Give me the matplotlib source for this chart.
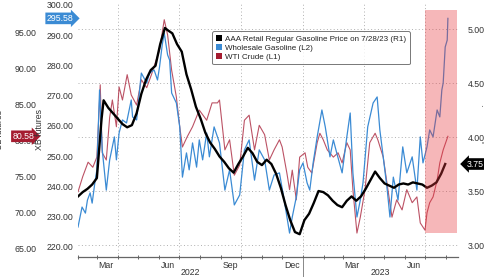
import numpy as np
import pandas as pd
import matplotlib
matplotlib.use("Agg")
import matplotlib.pyplot as plt
import matplotlib.dates as mdates
from matplotlib.patches import Patch

plt.rcParams["font.family"] = ["Liberation Sans", "DejaVu Sans"]

# AAA retail regular gasoline ($/gal, right axis R1)
aaa_dates = [
    "2022-02-01", "2022-02-08", "2022-02-15", "2022-02-22", "2022-03-01", "2022-03-08",
    "2022-03-11", "2022-03-18", "2022-03-25", "2022-04-01", "2022-04-08", "2022-04-15",
    "2022-04-22", "2022-04-29", "2022-05-06", "2022-05-13", "2022-05-20", "2022-05-27",
    "2022-06-03", "2022-06-10", "2022-06-14", "2022-06-21", "2022-06-28", "2022-07-05",
    "2022-07-12", "2022-07-19", "2022-07-26", "2022-08-02", "2022-08-09", "2022-08-16",
    "2022-08-23", "2022-08-30", "2022-09-06", "2022-09-13", "2022-09-20", "2022-09-27",
    "2022-10-04", "2022-10-11", "2022-10-18", "2022-10-25", "2022-11-01", "2022-11-08",
    "2022-11-15", "2022-11-22", "2022-11-29", "2022-12-06", "2022-12-13", "2022-12-20",
    "2022-12-27", "2023-01-03", "2023-01-10", "2023-01-17", "2023-01-24", "2023-01-31",
    "2023-02-07", "2023-02-14", "2023-02-21", "2023-02-28", "2023-03-07", "2023-03-14",
    "2023-03-21", "2023-03-28", "2023-04-04", "2023-04-11", "2023-04-18", "2023-04-25",
    "2023-05-02", "2023-05-09", "2023-05-16", "2023-05-23", "2023-05-30", "2023-06-06",
    "2023-06-13", "2023-06-20", "2023-06-27", "2023-07-04", "2023-07-11", "2023-07-18",
    "2023-07-25", "2023-07-31",
]
aaa_price = [
    3.45, 3.49, 3.52, 3.56, 3.62, 4.17,
    4.34, 4.27, 4.22, 4.17, 4.12, 4.09,
    4.11, 4.22, 4.40, 4.53, 4.62, 4.66,
    4.86, 5.01, 4.99, 4.96, 4.86, 4.79,
    4.58, 4.44, 4.28, 4.17, 4.04, 3.95,
    3.89, 3.82, 3.77, 3.71, 3.67, 3.75,
    3.82, 3.90, 3.85, 3.77, 3.74, 3.79,
    3.75, 3.66, 3.53, 3.37, 3.23, 3.12,
    3.10, 3.23, 3.29, 3.39, 3.50, 3.49,
    3.46, 3.41, 3.37, 3.35, 3.41, 3.45,
    3.41, 3.45, 3.52, 3.60, 3.68, 3.62,
    3.57, 3.55, 3.53, 3.56, 3.57, 3.56,
    3.58, 3.57, 3.56, 3.53, 3.55, 3.58,
    3.66, 3.75,
]

# Wholesale gasoline, XB futures (left axis L2)
xb_dates = [
    "2022-02-01", "2022-02-07", "2022-02-12", "2022-02-15", "2022-02-19", "2022-02-22",
    "2022-02-26", "2022-03-01", "2022-03-05", "2022-03-09", "2022-03-15", "2022-03-20",
    "2022-03-27", "2022-03-30", "2022-04-03", "2022-04-08", "2022-04-14", "2022-04-21",
    "2022-04-23", "2022-04-29", "2022-05-06", "2022-05-14", "2022-05-18", "2022-05-25",
    "2022-05-30", "2022-06-02", "2022-06-06", "2022-06-09", "2022-06-14", "2022-06-17",
    "2022-06-20", "2022-06-27", "2022-07-02", "2022-07-06", "2022-07-12", "2022-07-16",
    "2022-07-21", "2022-07-27", "2022-07-31", "2022-08-05", "2022-08-11", "2022-08-15",
    "2022-08-22", "2022-08-30", "2022-09-07", "2022-09-14", "2022-09-21", "2022-09-29",
    "2022-10-06", "2022-10-13", "2022-10-21", "2022-10-28", "2022-11-05", "2022-11-12",
    "2022-11-19", "2022-11-27", "2022-12-04", "2022-12-12", "2022-12-16", "2022-12-22",
    "2022-12-27", "2023-01-01", "2023-01-07", "2023-01-11", "2023-01-16", "2023-01-22",
    "2023-01-29", "2023-02-03", "2023-02-10", "2023-02-15", "2023-02-20", "2023-02-28",
    "2023-03-07", "2023-03-12", "2023-03-16", "2023-03-22", "2023-03-27", "2023-03-31",
    "2023-04-07", "2023-04-15", "2023-04-21", "2023-04-25", "2023-04-30", "2023-05-06",
    "2023-05-10", "2023-05-15", "2023-05-22", "2023-05-29", "2023-06-04", "2023-06-12",
    "2023-06-19", "2023-06-24", "2023-06-28", "2023-07-04", "2023-07-08", "2023-07-13",
    "2023-07-19", "2023-07-23", "2023-07-26", "2023-07-28", "2023-07-31", "2023-08-03",
    "2023-08-04",
]
xb_price = [
    226.6, 233.2, 231.2, 235.5, 237.9, 234.5,
    241.2, 245.5, 271.9, 252.1, 238.8, 248.8,
    256.4, 248.8, 257.7, 262.0, 261.0, 268.6,
    263.0, 262.0, 277.5, 274.2, 277.5, 278.5,
    275.2, 279.5, 286.8, 290.7, 283.5, 281.8,
    270.9, 267.6, 259.7, 243.1, 251.1, 245.5,
    254.4, 246.4, 255.4, 248.8, 257.7, 249.8,
    259.7, 254.4, 238.8, 245.5, 233.9, 237.2,
    252.1, 255.4, 242.1, 252.1, 248.8, 238.8,
    243.8, 244.5, 235.5, 224.6, 229.9, 236.5,
    245.5, 247.8, 241.2, 238.8, 247.8, 256.4,
    265.3, 259.7, 249.8, 255.4, 251.1, 244.5,
    256.4, 264.3, 244.5, 229.9, 235.5, 241.2,
    259.7, 267.6, 269.6, 258.7, 249.8, 238.8,
    229.9, 243.1, 235.5, 253.1, 244.5, 249.8,
    238.8, 256.4, 247.8, 253.1, 258.7, 256.4,
    265.3, 263.0, 271.9, 274.2, 286.1, 288.4,
    295.58,
]

# WTI crude (left axis L1)
wti_dates = [
    "2022-02-01", "2022-02-08", "2022-02-16", "2022-02-23", "2022-03-01", "2022-03-06",
    "2022-03-09", "2022-03-15", "2022-03-20", "2022-03-24", "2022-03-30", "2022-04-03",
    "2022-04-08", "2022-04-15", "2022-04-21", "2022-04-29", "2022-05-06", "2022-05-14",
    "2022-05-21", "2022-05-28", "2022-06-02", "2022-06-09", "2022-06-14", "2022-06-20",
    "2022-06-27", "2022-07-02", "2022-07-06", "2022-07-13", "2022-07-21", "2022-07-31",
    "2022-08-11", "2022-08-19", "2022-08-27", "2022-08-30", "2022-09-07", "2022-09-14",
    "2022-09-21", "2022-09-29", "2022-10-06", "2022-10-13", "2022-10-21", "2022-10-28",
    "2022-11-05", "2022-11-12", "2022-11-19", "2022-11-27", "2022-12-01", "2022-12-08",
    "2022-12-12", "2022-12-16", "2022-12-22", "2022-12-27", "2023-01-04", "2023-01-08",
    "2023-01-14", "2023-01-22", "2023-01-26", "2023-01-31", "2023-02-06", "2023-02-15",
    "2023-02-22", "2023-02-28", "2023-03-07", "2023-03-12", "2023-03-16", "2023-03-22",
    "2023-03-27", "2023-04-03", "2023-04-10", "2023-04-18", "2023-04-22", "2023-04-30",
    "2023-05-07", "2023-05-13", "2023-05-20", "2023-05-28", "2023-06-04", "2023-06-12",
    "2023-06-19", "2023-06-24", "2023-07-01", "2023-07-04", "2023-07-08", "2023-07-13",
    "2023-07-19", "2023-07-23", "2023-07-28", "2023-08-04",
]
wti_price = [
    72.9, 75.0, 77.0, 76.3, 77.7, 87.7,
    78.3, 77.3, 83.2, 85.6, 81.9, 87.4,
    85.6, 89.1, 86.3, 84.9, 88.4, 87.3,
    89.1, 91.1, 92.5, 96.7, 94.6, 89.7,
    86.0, 81.9, 79.1, 80.5, 81.9, 84.2,
    82.8, 85.2, 85.2, 85.6, 78.7, 80.1,
    75.2, 76.6, 82.8, 83.5, 78.7, 82.1,
    80.8, 77.3, 78.7, 80.1, 79.1, 75.5,
    73.2, 75.9, 71.8, 77.7, 78.3, 76.3,
    75.5, 79.7, 81.0, 80.1, 78.7, 77.7,
    78.3, 76.9, 79.7, 78.7, 73.2, 67.2,
    69.4, 73.2, 79.7, 81.0, 80.1, 77.7,
    73.2, 69.4, 71.8, 70.4, 73.2, 71.4,
    72.2, 68.6, 67.6, 70.0, 71.4, 72.2,
    74.5, 76.9, 78.7, 80.58,
]

legend_labels = [
    "AAA Retail Regular Gasoline Price on 7/28/23 (R1)",
    "Wholesale Gasoline (L2)",
    "WTI Crude (L1)",
]
month_labels = ["Mar", "Jun", "Sep", "Dec", "Mar", "Jun"]
month_label_dates = ["2022-03-15", "2022-06-15", "2022-09-15", "2022-12-15", "2023-03-15", "2023-06-15"]
grid_dates = ["2022-04-01", "2022-07-01", "2022-10-01", "2023-01-01", "2023-04-01", "2023-07-01"]
highlight_start, highlight_end = "2023-07-01", "2023-08-17"

c_black = "#000000"
c_blue = "#3b8bd4"
c_red = "#b0344a"
c_text = "#333333"
c_grid = "#b0b0b0"

fig = plt.figure(figsize=(4.85, 2.77), dpi=100)
pos = [78 / 485, 20 / 277, 380 / 485, 254 / 277]

ax_l1 = fig.add_axes(pos)
ax_l2 = ax_l1.twinx()
ax_r1 = ax_l1.twinx()

x0 = pd.Timestamp("2022-02-01")
x1 = pd.Timestamp("2023-08-19")
ax_l1.set_xlim(x0, x1)
ax_l1.set_ylim(63.89, 99.01)
ax_l2.set_ylim(216.69, 300.66)
ax_r1.set_ylim(2.889, 5.241)

# grid (follows the R1 axis)
for v in np.arange(3.0, 5.01, 0.5):
    ax_l1.plot([0, 1], [v, v], transform=ax_r1.get_yaxis_transform(), color=c_grid,
               lw=0.7, ls=(0, (1, 2.5)), zorder=0)
for d in grid_dates:
    ax_l1.axvline(pd.Timestamp(d), color=c_grid, lw=0.7, ls=(0, (1, 2.5)), zorder=0)

# lines
ax_l1.plot(pd.to_datetime(wti_dates), wti_price, color=c_red, lw=0.8, alpha=0.85)
ax_l2.plot(pd.to_datetime(xb_dates), xb_price, color=c_blue, lw=0.9)
ax_r1.plot(pd.to_datetime(aaa_dates), aaa_price, color=c_black, lw=1.7)

# highlight box
ax_r1.fill_between([pd.Timestamp(highlight_start), pd.Timestamp(highlight_end)], 3.11, 5.18,
                   color="#e8383d", alpha=0.36, lw=0, zorder=5)

# spines
for ax in (ax_l1, ax_l2, ax_r1):
    for s in ax.spines.values():
        s.set_visible(False)
ax_l1.spines["bottom"].set_visible(True)
ax_l1.spines["bottom"].set_color("#666666")
ax_l1.spines["bottom"].set_linewidth(0.9)

# y axes
ax_r1.yaxis.set_ticks_position("right")
ax_r1.set_yticks(np.arange(3.0, 5.01, 0.5))
ax_r1.yaxis.set_major_formatter(plt.FormatStrFormatter("%.2f"))
ax_r1.tick_params(axis="y", length=0, pad=7, labelsize=6.3, labelcolor=c_text)
ax_r1.set_ylabel("Regular gas price", fontsize=6.3, color=c_text, rotation=90)
ax_r1.yaxis.set_label_position("right")
ax_r1.yaxis.set_label_coords((483 - 78) / 380, 0.5)

ax_l2.yaxis.set_ticks_position("left")
ax_l2.yaxis.set_label_position("left")
ax_l2.set_yticks(np.arange(220, 301, 10))
ax_l2.yaxis.set_major_formatter(plt.FormatStrFormatter("%.2f"))
ax_l2.tick_params(axis="y", length=0, pad=3, labelsize=6.3, labelcolor=c_text)
ax_l2.set_ylabel("XB futures", fontsize=6.3, color=c_text)
ax_l2.yaxis.set_label_coords((44 - 78) / 380, 0.5)

ax_l1.spines["left"].set_position(("axes", (41 - 78) / 380))
ax_l1.yaxis.set_ticks_position("left")
ax_l1.set_yticks(np.arange(65, 96, 5))
ax_l1.yaxis.set_major_formatter(plt.FormatStrFormatter("%.2f"))
ax_l1.tick_params(axis="y", length=0, pad=3, labelsize=6.3, labelcolor=c_text)
ax_l1.set_ylabel("CL futures", fontsize=6.3, color=c_text)
ax_l1.yaxis.set_label_coords((4 - 78) / 380, 0.5)

# x axis
ax_l1.xaxis.set_minor_locator(mdates.MonthLocator())
ax_l1.set_xticks(pd.to_datetime(month_label_dates))
ax_l1.set_xticklabels(month_labels)
ax_l1.tick_params(axis="x", which="major", length=0, pad=3, labelsize=6.3, labelcolor=c_text)
ax_l1.tick_params(axis="x", which="minor", length=3, direction="inout", color="#666666", width=0.7)
for ax in (ax_l2, ax_r1):
    ax.tick_params(axis="x", which="both", length=0, labelbottom=False)

xform = ax_l1.get_xaxis_transform()
ax_l1.text(pd.Timestamp("2022-07-18"), -0.045, "2022", transform=xform, ha="center", va="top",
           fontsize=6.3, color=c_text)
ax_l1.text(pd.Timestamp("2023-04-25"), -0.045, "2023", transform=xform, ha="center", va="top",
           fontsize=6.3, color=c_text)
ax_l1.plot([pd.Timestamp("2023-01-01")] * 2, [0, -0.08], transform=xform, color="#888888",
           lw=0.7, clip_on=False)

# value tags
ax_l2.text(-0.012, xb_price[-1], f"{xb_price[-1]:.2f}", transform=ax_l2.get_yaxis_transform(),
           ha="right", va="center", fontsize=6.3, color="white",
           bbox=dict(boxstyle="rarrow,pad=0.15", fc=c_blue, ec="none"))
ax_l1.text(-0.115, wti_price[-1], f"{wti_price[-1]:.2f}", transform=ax_l1.get_yaxis_transform(),
           ha="right", va="center", fontsize=6.3, color="white",
           bbox=dict(boxstyle="rarrow,pad=0.15", fc="#a51c30", ec="none"))
ax_r1.text(1.022, aaa_price[-1], f"{aaa_price[-1]:.2f}", transform=ax_r1.get_yaxis_transform(),
           ha="left", va="center", fontsize=6.3, color="white",
           bbox=dict(boxstyle="larrow,pad=0.15", fc="black", ec="none"))

# legend
handles = [Patch(fc=c_black), Patch(fc=c_blue), Patch(fc="#a51c30")]
leg = ax_r1.legend(handles, legend_labels, loc="upper left",
                   bbox_to_anchor=((208 - 78) / 380, (257 - 27) / 254),
                   fontsize=5.8, handlelength=0.8, handleheight=0.8, handletextpad=0.4,
                   labelspacing=0.15, borderpad=0.45, frameon=True, fancybox=True)
leg.get_frame().set_edgecolor("#555555")
leg.get_frame().set_linewidth(0.7)
leg.set_zorder(10)
for t in leg.get_texts():
    t.set_color("#222222")

fig.savefig("out.png", dpi=100)
